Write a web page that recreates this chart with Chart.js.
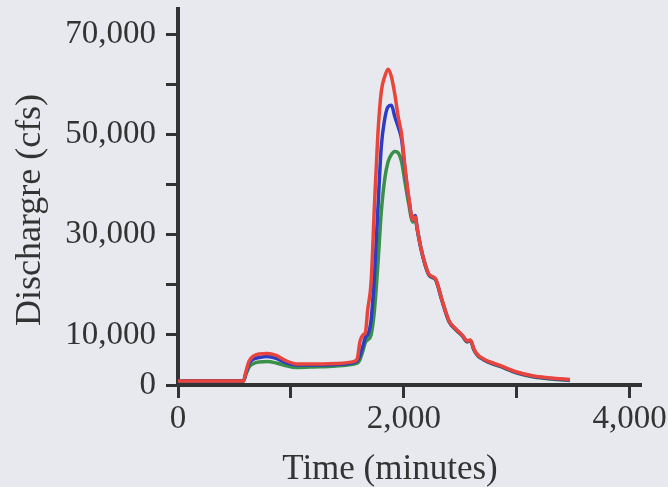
<!DOCTYPE html>
<html>
<head>
<meta charset="utf-8">
<script src="https://cdn.jsdelivr.net/npm/chart.js@4.4.1/dist/chart.umd.min.js"></script>
<style>
  html, body { margin: 0; padding: 0; background: #e8e9ef; }
  #wrap { width: 668px; height: 487px; position: relative; }
</style>
</head>
<body>
<div id="wrap"><canvas id="chart" width="668" height="487"></canvas></div>
<script>
// time in minutes, discharge in cfs
const timeMin = [0, 580, 600, 630, 670, 720, 790, 870, 950, 1050, 1200, 1400, 1560, 1590, 1610, 1640, 1660, 1680, 1710, 1740, 1770, 1800, 1830, 1860, 1890, 1920, 1950, 1980, 2010, 2040, 2080, 2100, 2120, 2150, 2190, 2225, 2280, 2340, 2400, 2460, 2520, 2560, 2590, 2620, 2660, 2700, 2750, 2850, 3000, 3150, 3300, 3470];

const redQ = [800, 800, 2500, 4800, 5800, 6200, 6300, 5900, 4900, 4200, 4200, 4300, 4700, 5500, 8500, 10000, 10500, 15000, 20500, 36000, 50000, 58500, 61500, 63000, 61500, 58000, 53500, 50000, 43500, 38000, 33000, 33500, 31000, 27500, 24000, 22000, 21200, 16800, 12800, 11200, 9900, 8800, 9000, 7200, 5900, 5300, 4700, 3900, 2600, 1800, 1400, 1100];

const blueQ = [800, 800, 2300, 4300, 5200, 5500, 5700, 5300, 4500, 4000, 4000, 4100, 4500, 4900, 5800, 8000, 9500, 10000, 13000, 22000, 35000, 47500, 53000, 55500, 55800, 53500, 51500, 49000, 43000, 37800, 33000, 33800, 31000, 27400, 23900, 21900, 21100, 16700, 12700, 11100, 9800, 8700, 8900, 7100, 5800, 5200, 4600, 3800, 2500, 1700, 1300, 1000];

const greenQ = [800, 800, 2000, 3600, 4300, 4600, 4700, 4400, 3900, 3500, 3600, 3800, 4200, 4400, 5000, 7000, 8500, 9000, 10000, 15000, 24000, 34500, 41000, 44500, 46000, 46600, 46300, 44500, 40500, 36500, 32500, 33000, 30800, 27300, 23800, 21800, 21000, 16600, 12600, 11000, 9700, 8600, 8800, 7000, 5700, 5100, 4500, 3700, 2400, 1600, 1200, 900];

const xTicks = [0, 1000, 2000, 3000, 4000];
const xTickLabels = ['0', '', '2,000', '', '4,000'];
const yTicks = [0, 10000, 20000, 30000, 40000, 50000, 60000, 70000];
const yTickLabels = ['0', '10,000', '', '30,000', '', '50,000', '', '70,000'];

const xTitle = 'Time (minutes)';
const yTitle = 'Dischargre (cfs)';

const axisColor = '#333333';
const serif = "'Liberation Serif', 'Times New Roman', serif";

function pairs(vals) {
    return timeMin.map((t, i) => ({ x: t, y: vals[i] }));
}

function lineSet(label, vals, color) {
    return {
        label: label,
        data: pairs(vals),
        borderColor: color,
        borderWidth: 3.5,
        pointRadius: 0,
        fill: false,
        cubicInterpolationMode: 'monotone'
    };
}

// drop the label padding chart.js adds, so the plot box sits where the scan has it
function noPad(scale) {
    scale.paddingTop = 0;
    scale.paddingBottom = 0;
    scale.paddingLeft = 0;
    scale.paddingRight = 0;
}

// axis titles drawn at their place in the scan
const titles = {
    id: 'titles',
    afterDraw(chart) {
        const c = chart.ctx;
        c.save();
        c.fillStyle = axisColor;
        c.font = '35px ' + serif;
        c.textAlign = 'center';
        c.textBaseline = 'alphabetic';
        c.fillText(xTitle, 390, 479);
        c.translate(40, 210);
        c.rotate(-Math.PI / 2);
        c.font = '36px ' + serif;
        c.fillText(yTitle, 0, 0);
        c.restore();
    }
};

const ctx = document.getElementById('chart').getContext('2d');
new Chart(ctx, {
    type: 'line',
    data: {
        datasets: [
            lineSet('Red', redQ, '#e8463c'),
            lineSet('Blue', blueQ, '#2b3dc4'),
            lineSet('Green', greenQ, '#3a9048')
        ]
    },
    options: {
        responsive: false,
        animation: false,
        layout: { padding: { left: 0, top: 9, right: 27, bottom: 0 } },
        plugins: { legend: { display: false }, tooltip: { enabled: false } },
        scales: {
            x: {
                type: 'linear',
                min: 0,
                max: 4100,
                afterBuildTicks: axis => { axis.ticks = xTicks.map(v => ({ value: v })); },
                afterFit: scale => { scale.height = 102; noPad(scale); },
                ticks: {
                    autoSkip: false,
                    maxRotation: 0,
                    padding: 2,
                    color: axisColor,
                    font: { family: serif, size: 33 },
                    callback: (v, i) => xTickLabels[i]
                },
                grid: { drawOnChartArea: false, drawTicks: true, tickLength: 13, tickWidth: 3, tickColor: axisColor },
                border: { display: true, width: 4, color: axisColor }
            },
            y: {
                min: 0,
                max: 75000,
                afterBuildTicks: axis => { axis.ticks = yTicks.map(v => ({ value: v })); },
                afterFit: scale => { scale.width = 178; noPad(scale); },
                ticks: {
                    autoSkip: false,
                    padding: 10,
                    color: axisColor,
                    font: { family: serif, size: 33 },
                    callback: (v, i) => yTickLabels[i]
                },
                grid: { drawOnChartArea: false, drawTicks: true, tickLength: 12, tickWidth: 3, tickColor: axisColor },
                border: { display: true, width: 4, color: axisColor }
            }
        }
    },
    plugins: [titles]
});
</script>
</body>
</html>
